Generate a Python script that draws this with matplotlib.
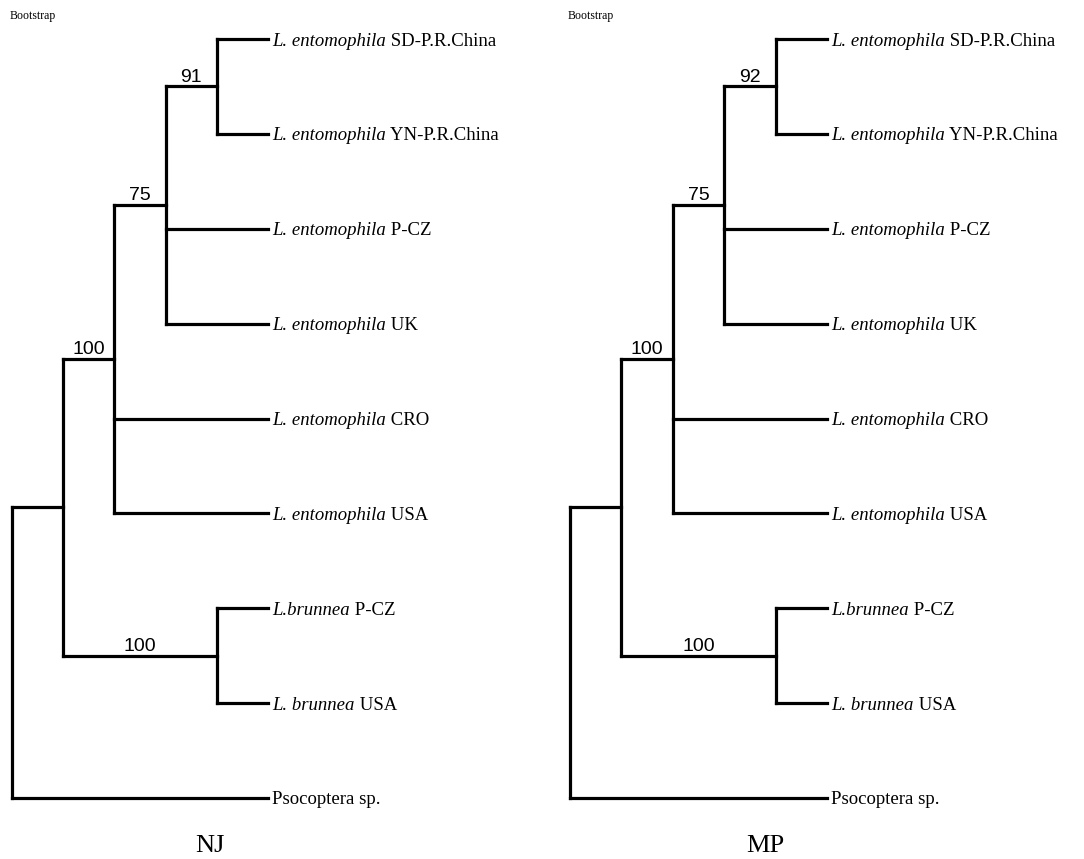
import matplotlib.pyplot as plt

plt.rcParams['font.family'] = 'Liberation Serif'

# taxa, top to bottom (italic part + plain part)
taxa_italic = ['L. entomophila'] * 6 + ['L.brunnea', 'L. brunnea', '']
taxa_plain = ['SD-P.R.China', 'YN-P.R.China', 'P-CZ', 'UK', 'CRO', 'USA',
              'P-CZ', 'USA', 'Psocoptera sp.']

# topology (indices into taxa), same for both trees
tree = [[[[[0, 1], 2, 3], 4, 5], [6, 7]], 8]

# supported clades and bootstrap values
clades = [(0, 1), (0, 1, 2, 3), (0, 1, 2, 3, 4, 5), (6, 7)]
nj_boot = [91, 75, 100, 100]
mp_boot = [92, 75, 100, 100]


def height(node):
    if isinstance(node, int):
        return 0
    return 1 + max(height(c) for c in node)


def leaves(node):
    if isinstance(node, int):
        return [node]
    out = []
    for c in node:
        out += leaves(c)
    return out


def node_y(node):
    if isinstance(node, int):
        return node
    ys = [node_y(c) for c in node]
    return (min(ys) + max(ys)) / 2


def draw(ax, node, top, boot, parent_x=None):
    x = top - height(node)
    y = node_y(node)
    kw = dict(color='black', lw=2.3, solid_capstyle='projecting', clip_on=False)
    if parent_x is not None:
        ax.plot([parent_x, x], [y, y], **kw)
    if isinstance(node, int):
        fs = 13.5
        if taxa_italic[node]:
            it = ax.annotate(taxa_italic[node], (x, y), xytext=(3, 0),
                             textcoords='offset points', ha='left',
                             va='center_baseline', fontsize=fs,
                             style='italic', annotation_clip=False)
            ax.annotate(' ' + taxa_plain[node], (1, 0), xycoords=it,
                        ha='left', va='bottom', fontsize=fs)
        else:
            ax.annotate(taxa_plain[node], (x, y), xytext=(3, 0),
                        textcoords='offset points', ha='left',
                        va='center_baseline', fontsize=fs,
                        annotation_clip=False)
        return
    ys = [node_y(c) for c in node]
    ax.plot([x, x], [min(ys), max(ys)], **kw)
    key = tuple(leaves(node))
    if parent_x is not None and key in clades:
        ax.annotate(str(boot[clades.index(key)]), ((parent_x + x) / 2, y),
                    xytext=(0, 3.5), textcoords='offset points',
                    ha='center', va='baseline', fontsize=14,
                    family='Liberation Sans', annotation_clip=False)
    for c in node:
        draw(ax, c, top, boot, x)


W, H = 1084, 859
fig = plt.figure(figsize=(W / 100, H / 100), dpi=100)

n_leaves = len(taxa_plain)
top = height(tree)
for x0, x1, boot, name, nx in [(12, 268, nj_boot, 'NJ', 210),
                               (570, 827, mp_boot, 'MP', 765)]:
    ax = fig.add_axes([x0 / W, (H - 798) / H, (x1 - x0) / W, (798 - 39) / H])
    ax.set_xlim(0, top)
    ax.set_ylim(n_leaves - 1, 0)
    ax.axis('off')
    draw(ax, tree, top, boot)
    fig.text((x0 - 2) / W, 1 - 16 / H, 'Bootstrap', fontsize=8.5,
             ha='left', va='center')
    fig.text(nx / W, 1 - 846 / H, name, fontsize=19, ha='center', va='center')

fig.savefig('out.png', dpi=100)
